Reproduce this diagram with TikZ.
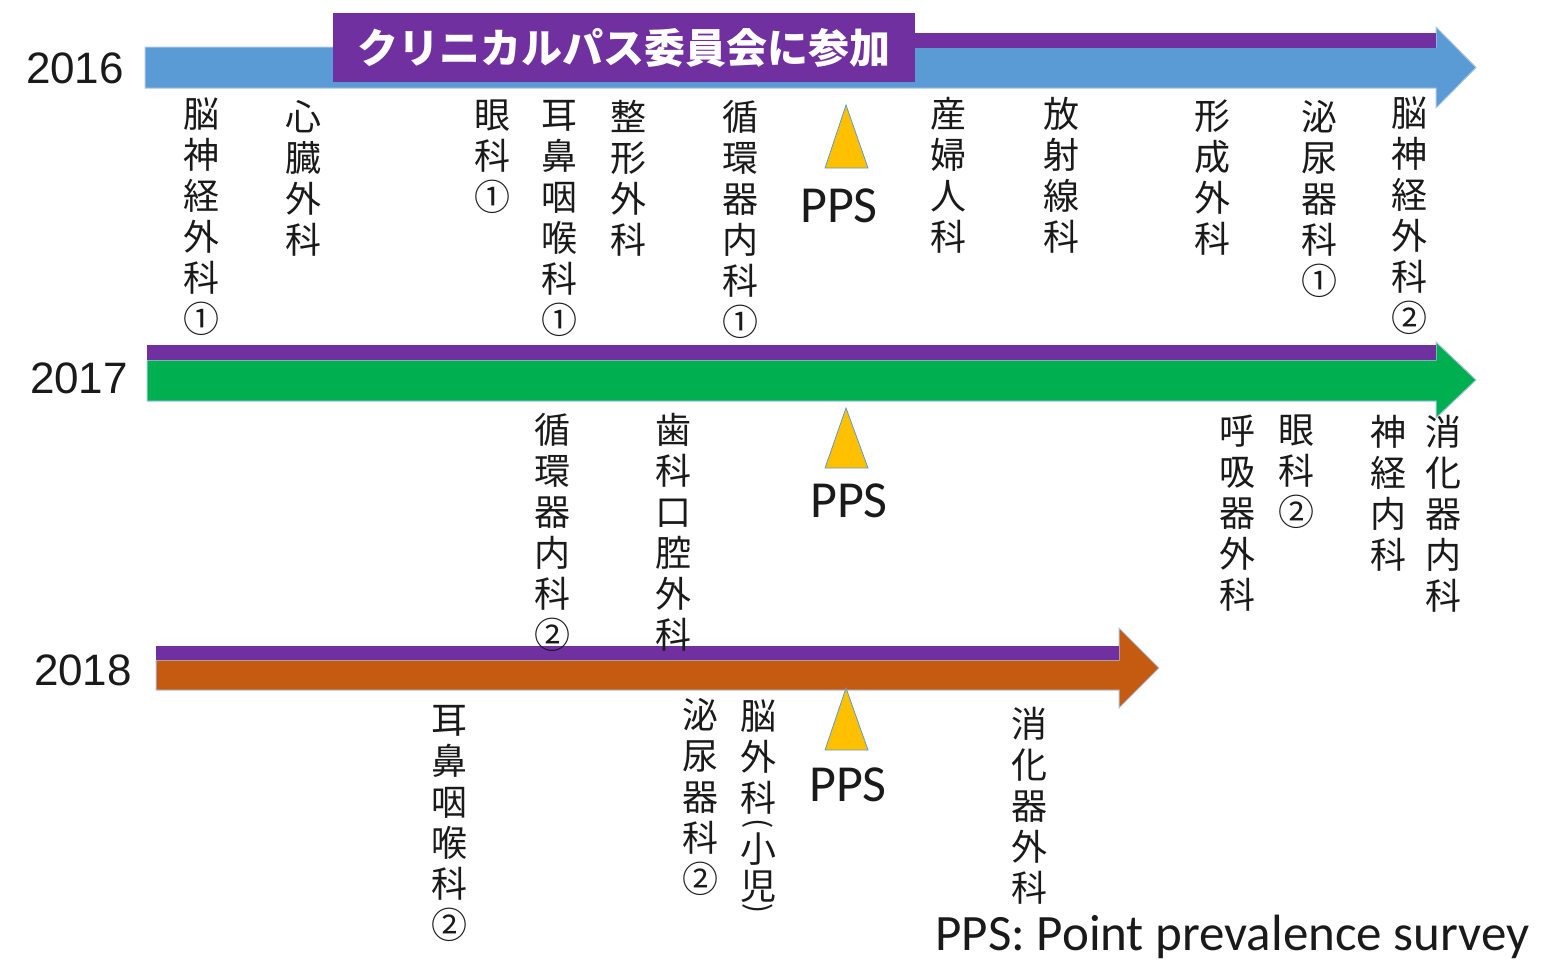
\documentclass[tikz,border=0pt]{standalone}
\usepackage{fontspec}
\newfontfamily\cjk{Noto Sans CJK JP}
\newfontfamily\yearfont{Liberation Sans}
\newfontfamily\calfont{Carlito}
\definecolor{aBlue}{HTML}{5B9BD5}
\definecolor{aGreen}{HTML}{00B050}
\definecolor{aOrange}{HTML}{C55A11}
\definecolor{aPurple}{HTML}{7030A0}
\definecolor{aYellow}{HTML}{FFC000}
\definecolor{aEdge}{HTML}{A9C5E3}
\definecolor{txt}{HTML}{1A1A1A}
\tikzset{
  vlabel/.style={anchor=north, align=center, inner sep=0pt, outer sep=0pt, text=txt,
    font=\cjk\fontsize{18pt}{20.5pt}\selectfont, execute at begin node={\rule{0pt}{15pt}}},
  paren/.style={inner sep=0pt, outer sep=0pt, text=txt, rotate=-90,
    font=\cjk\fontsize{15pt}{15pt}\selectfont},
  year/.style={inner sep=0pt, text=txt, font=\yearfont\fontsize{22pt}{26pt}\selectfont},
  pps/.style={anchor=north, inner sep=0pt, text=txt, font=\calfont\fontsize{26pt}{30pt}\selectfont},
  marker/.style={fill=aYellow, draw=aBlue, line width=0.4pt},
  arrowedge/.style={draw=aEdge, line width=0.5pt},
  committee/.style={fill=aPurple, text=white, inner sep=0pt, minimum width=291pt, minimum height=34.5pt,
    font=\cjk\bfseries\fontsize{20.5pt}{24pt}\selectfont}
}
\begin{document}
\begin{tikzpicture}[x=0.5pt,y=-0.5pt]
\useasboundingbox (0,0) rectangle (1566,964);

% ---- 2016 arrow ----
\fill[aBlue, arrowedge] (145,47) -- (1436,47) -- (1436,27) -- (1476,67.5) -- (1436,108) -- (1436,88) -- (145,88) -- cycle;
\fill[aPurple] (915,33) rectangle (1436,48);
\node[committee] (comm) at (624,47.5) {クリニカルパス委員会に参加};

% ---- 2017 arrow ----
\fill[aGreen, arrowedge] (147,360) -- (1436,360) -- (1436,342) -- (1476,380) -- (1436,418) -- (1436,401) -- (147,401) -- cycle;
\fill[aPurple] (147,345) rectangle (1436,360);

% ---- 2018 arrow ----
\fill[aOrange, arrowedge] (156,660) -- (1119,660) -- (1119,628) -- (1159,668) -- (1119,708) -- (1119,690) -- (156,690) -- cycle;
\fill[aPurple] (156,646) rectangle (1119,660);

% ---- years ----
\node[year] (y16) at (75,68) {2016};
\node[year] (y17) at (79,378) {2017};
\node[year] (y18) at (83,670) {2018};

% ---- PPS markers ----
\fill[marker] (846,105) -- (868,168) -- (825,168) -- cycle;
\fill[marker] (846,408) -- (868,468) -- (825,468) -- cycle;
\fill[marker] (846,688) -- (868,750) -- (825,750) -- cycle;
\node[pps] (p16) at (839,188) {PPS};
\node[pps] (p17) at (849,483) {PPS};
\node[pps] (p18) at (848,767) {PPS};

% ---- 2016 labels ----
\node[vlabel] (a1) at (201,98) {脳\\神\\経\\外\\科\\①};
\node[vlabel] (a2) at (303,100) {心\\臓\\外\\科};
\node[vlabel] (a3) at (492,100) {眼\\科\\①};
\node[vlabel] (a4) at (559,100) {耳\\鼻\\咽\\喉\\科\\①};
\node[vlabel] (a5) at (628,100) {整\\形\\外\\科};
\node[vlabel] (a6) at (740,100) {循\\環\\器\\内\\科\\①};
\node[vlabel] (a7) at (948,97) {産\\婦\\人\\科};
\node[vlabel] (a8) at (1061,97) {放\\射\\線\\科};
\node[vlabel] (a9) at (1212,100) {形\\成\\外\\科};
\node[vlabel] (a10) at (1319,100) {泌\\尿\\器\\科\\①};
\node[vlabel] (a11) at (1409,97) {脳\\神\\経\\外\\科\\②};

% ---- 2017 labels ----
\node[vlabel] (b1) at (552,413) {循\\環\\器\\内\\科\\②};
\node[vlabel] (b2) at (673,413) {歯\\科\\口\\腔\\外\\科};
\node[vlabel] (b3) at (1237,415) {呼\\吸\\器\\外\\科};
\node[vlabel] (b4) at (1296,415) {眼\\科\\②};
\node[vlabel] (b5) at (1388,415) {神\\経\\内\\科};
\node[vlabel] (b6) at (1443,415) {消\\化\\器\\内\\科};

% ---- 2018 labels ----
\node[vlabel] (c1) at (449,705) {耳\\鼻\\咽\\喉\\科\\②};
\node[vlabel] (c2) at (700,698) {泌\\尿\\器\\科\\②};
\node[vlabel] (c3) at (758,700) {脳\\外\\科\\[5pt]小\\[-2pt]児};
\node[paren] (c3a) at (758,824) {(};
\node[paren] (c3b) at (758,909) {)};
\node[vlabel] (c4) at (1029,707) {消\\化\\器\\外\\科};

% ---- footer ----
\node[anchor=north west, inner sep=0pt, text=txt, font=\calfont\fontsize{25.5pt}{30pt}\selectfont] (foot) at (935,915) {PPS: Point prevalence survey};
\end{tikzpicture}
\end{document}
